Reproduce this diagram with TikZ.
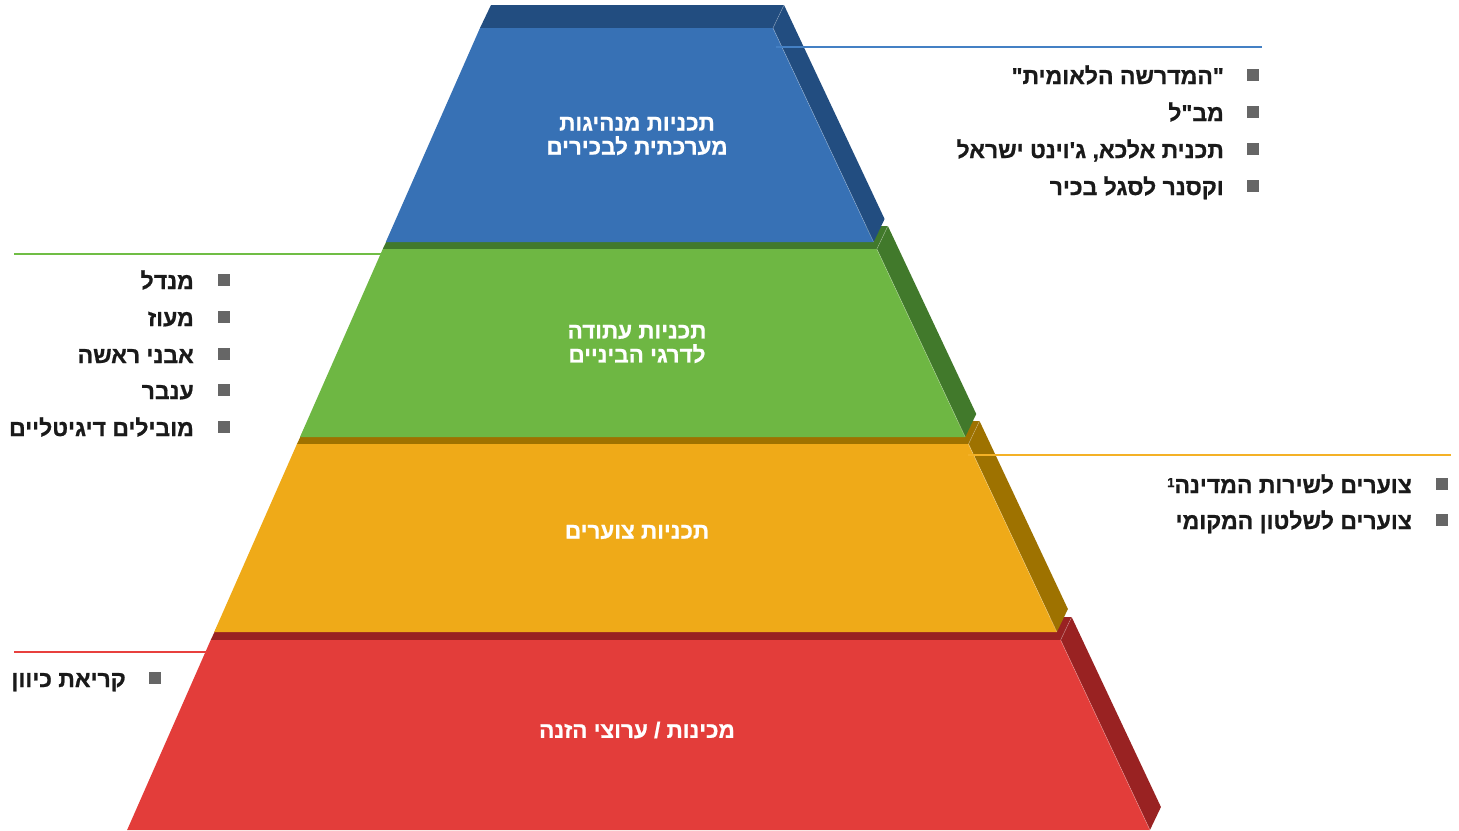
\documentclass[tikz,border=0pt]{standalone}
\usepackage{fontspec}
\setmainfont{Liberation Sans}
\newfontfamily\heb[Script=Hebrew,FakeBold=0.8]{Liberation Sans Bold}
\TeXXeTstate=1

\definecolor{bluefront}{RGB}{55,113,181}
\definecolor{blueside}{RGB}{34,77,128}
\definecolor{greenfront}{RGB}{110,183,67}
\definecolor{greenside}{RGB}{65,121,43}
\definecolor{orangefront}{RGB}{239,170,24}
\definecolor{orangeside}{RGB}{158,114,0}
\definecolor{redfront}{RGB}{227,61,58}
\definecolor{redside}{RGB}{153,34,34}
\definecolor{blueline}{RGB}{68,128,196}
\definecolor{greenline}{RGB}{112,189,69}
\definecolor{orangeline}{RGB}{244,177,38}
\definecolor{redline}{RGB}{232,64,62}
\definecolor{bulletgray}{RGB}{102,102,102}
\definecolor{itemtext}{RGB}{26,26,26}

% one extruded tier: #1 front top y, #2 front bottom y, #3 front colour, #4 shade colour
\newcommand\tierblock[4]{%
  \pgfmathsetmacro\xlt{480-0.440*(#1-28)}%
  \pgfmathsetmacro\xrt{773+0.470*(#1-28)}%
  \pgfmathsetmacro\xlb{480-0.440*(#2-28)}%
  \pgfmathsetmacro\xrb{773+0.470*(#2-28)}%
  \fill[#4] (\xlt,#1) -- (\xrt,#1) -- ({\xrt+11},{#1-23}) -- ({\xlt+11},{#1-23}) -- cycle;
  \fill[#4] (\xrt,#1) -- ({\xrt+11},{#1-23}) -- ({\xrb+11},{#2-23}) -- (\xrb,#2) -- cycle;
  \fill[#3] (\xlt,#1) -- (\xrt,#1) -- (\xrb,#2) -- (\xlb,#2) -- cycle;
  \draw[white, opacity=0.3, line width=0.6pt] (\xrb,#2) -- (\xrt,#1) -- ({\xrt+11},{#1-23});
}

\begin{document}
\begin{tikzpicture}[x=1pt,y=-1pt,
  bullet/.style={fill=bulletgray, minimum size=12.5pt, inner sep=0pt},
  item/.style={anchor=base east, inner sep=0pt, font=\heb\fontsize{23}{26}\selectfont, text=itemtext},
  tier/.style={font=\heb\fontsize{22.5}{24}\selectfont, text=white, align=center, inner sep=0pt},
  leader/.style={line width=2pt}]

\fill[white] (0,0) rectangle (1459,830);
\useasboundingbox (0,0) rectangle (1459,830);

% pyramid, drawn from the base upwards
\tierblock{640}{830}{redfront}{redside}
\tierblock{444}{632}{orangefront}{orangeside}
\tierblock{249}{437}{greenfront}{greenside}
\tierblock{28}{242}{bluefront}{blueside}

% tier titles
\node[tier] (tblue) at (637,136) {\beginR תכניות מנהיגות\endR\\\beginR מערכתית לבכירים\endR};
\node[tier] (tgreen) at (637,344) {\beginR תכניות עתודה\endR\\\beginR לדרגי הביניים\endR};
\node[tier] (torange) at (637,532) {\beginR תכניות צוערים\endR};
\node[tier] (tred) at (637,730) {\beginR מכינות / ערוצי הזנה\endR};

% leader lines
\coordinate (blA) at (776,47);  \coordinate (blB) at (1262,47);
\coordinate (glA) at (381,254); \coordinate (glB) at (14,254);
\coordinate (olA) at (968,455); \coordinate (olB) at (1451,455);
\coordinate (rlA) at (207,652); \coordinate (rlB) at (14,652);
\draw[leader, blueline] (blA) -- (blB);
\draw[leader, greenline] (glA) -- (glB);
\draw[leader, orangeline] (olA) -- (olB);
\draw[leader, redline] (rlA) -- (rlB);

% top tier programmes
\node[bullet] (ba1) at (1253,75) {};
\node[bullet] (ba2) at (1253,112) {};
\node[bullet] (ba3) at (1253,149) {};
\node[bullet] (ba4) at (1253,186) {};
\node[item] (ia1) at (1224,84) {\beginR\hbox{"}המדרשה הלאומית\hbox{"}\endR};
\node[item] (ia2) at (1224,121) {\beginR מב"ל\endR};
\node[item] (ia3) at (1224,158) {\beginR תכנית אלכא\hbox{,} ג'וינט ישראל\endR};
\node[item] (ia4) at (1224,195) {\beginR וקסנר לסגל בכיר\endR};

% second tier programmes
\node[bullet] (bb1) at (224,280) {};
\node[bullet] (bb2) at (224,317) {};
\node[bullet] (bb3) at (224,354) {};
\node[bullet] (bb4) at (224,390) {};
\node[bullet] (bb5) at (224,427) {};
\node[item] (ib1) at (194,289) {\beginR מנדל\endR};
\node[item] (ib2) at (194,326) {\beginR מעוז\endR};
\node[item] (ib3) at (194,363) {\beginR אבני ראשה\endR};
\node[item] (ib4) at (194,399) {\beginR ענבר\endR};
\node[item] (ib5) at (194,436) {\beginR מובילים דיגיטליים\endR};

% third tier programmes
\node[bullet] (bc1) at (1442,484) {};
\node[bullet] (bc2) at (1442,520) {};
\node[item] (ic1) at (1412,493) {\beginR צוערים לשירות המדינה\raisebox{6pt}{\fontsize{13}{13}\selectfont 1}\endR};
\node[item] (ic2) at (1412,529) {\beginR צוערים לשלטון המקומי\endR};

% base tier programme
\node[bullet] (bd1) at (155,678) {};
\node[item] (id1) at (126,687) {\beginR קריאת כיוון\endR};

\end{tikzpicture}
\end{document}
